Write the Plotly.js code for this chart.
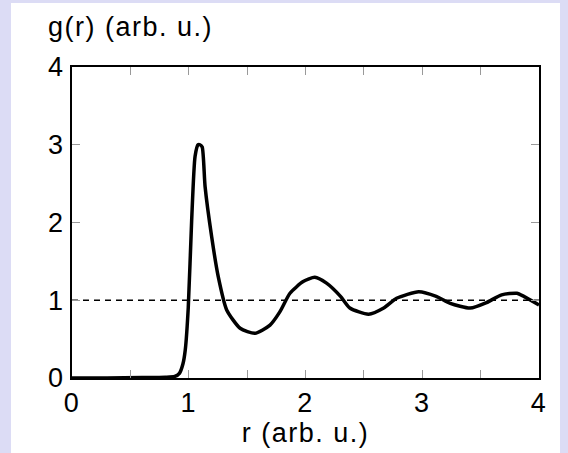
<!DOCTYPE html>
<html>
<head>
<meta charset="utf-8">
<script src="https://cdn.plot.ly/plotly-3.0.1.min.js"></script>
<style>html,body{margin:0;padding:0;background:#dcdcf5;}#chart{width:568px;height:453px;}
text{letter-spacing:1.5px;}</style>
</head>
<body>
<div id="chart"></div>
<script>
const r = [0, 0.3, 0.6, 0.8, 0.88, 0.92, 0.95, 0.97, 0.996, 1.025, 1.054, 1.08, 1.096, 1.115, 1.14, 1.196, 1.253, 1.325, 1.44, 1.567, 1.696, 1.78, 1.867, 1.98, 2.08, 2.18, 2.30, 2.38, 2.54, 2.67, 2.78, 2.97, 3.12, 3.24, 3.41, 3.55, 3.68, 3.81, 3.87, 4.0];
const g = [0, 0, 0.005, 0.01, 0.02, 0.06, 0.18, 0.36, 0.91, 2.03, 2.85, 3.0, 3.0, 2.97, 2.46, 1.82, 1.30, 0.875, 0.64, 0.575, 0.68, 0.85, 1.09, 1.24, 1.295, 1.22, 1.05, 0.90, 0.82, 0.90, 1.025, 1.11, 1.05, 0.96, 0.90, 0.97, 1.07, 1.09, 1.05, 0.94];
const refR = [0, 4];
const refG = [1, 1];
const xTickVals = [0, 0.5, 1, 1.5, 2, 2.5, 3, 3.5, 4];
const xTickText = ['0', '', '1', '', '2', '', '3', '', '4'];
const yTickVals = [0, 1, 2, 3, 4];
const yTickText = ['0', '1', '2', '3', '4'];
const xTitle = 'r (arb. u.)';
const yTitle = 'g(r) (arb. u.)';

const font = {family: 'Liberation Sans, Arial, sans-serif', size: 27, color: '#000'};
const axisCommon = {
  showline: true, linecolor: '#000', linewidth: 2, mirror: 'ticks',
  ticks: 'inside', ticklen: 8, tickwidth: 1, tickcolor: '#999',
  showgrid: false, zeroline: false, tickfont: font, fixedrange: true
};
const traces = [
  {x: refR, y: refG, mode: 'lines', line: {color: '#000', width: 1.5, dash: '6px,5px'}, hoverinfo: 'skip'},
  {x: r, y: g, mode: 'lines', line: {color: '#000', width: 3.5, shape: 'spline', smoothing: 0.6}}
];
const layout = {
  width: 568, height: 453,
  margin: {l: 72, r: 29, t: 67, b: 75},
  paper_bgcolor: '#dcdcf5', plot_bgcolor: '#fff',
  showlegend: false,
  font: font,
  xaxis: Object.assign({}, axisCommon, {range: [0, 4], tickmode: 'array', tickvals: xTickVals, ticktext: xTickText,
    title: {text: xTitle, font: font, standoff: 6}}),
  yaxis: Object.assign({}, axisCommon, {range: [0, 4], tickmode: 'array', tickvals: yTickVals, ticktext: yTickText}),
  shapes: [{type: 'rect', xref: 'paper', yref: 'paper', x0: -0.1306, x1: 1.045, y0: -0.25, y1: 1.2058,
    fillcolor: '#fff', line: {width: 0}, layer: 'below'}],
  annotations: [{text: yTitle, xref: 'paper', yref: 'paper', x: -0.055, y: 1.128, xanchor: 'left', yanchor: 'middle',
    showarrow: false, font: font}]
};
Plotly.newPlot('chart', traces, layout, {displayModeBar: false, staticPlot: true});
</script>
</body>
</html>
